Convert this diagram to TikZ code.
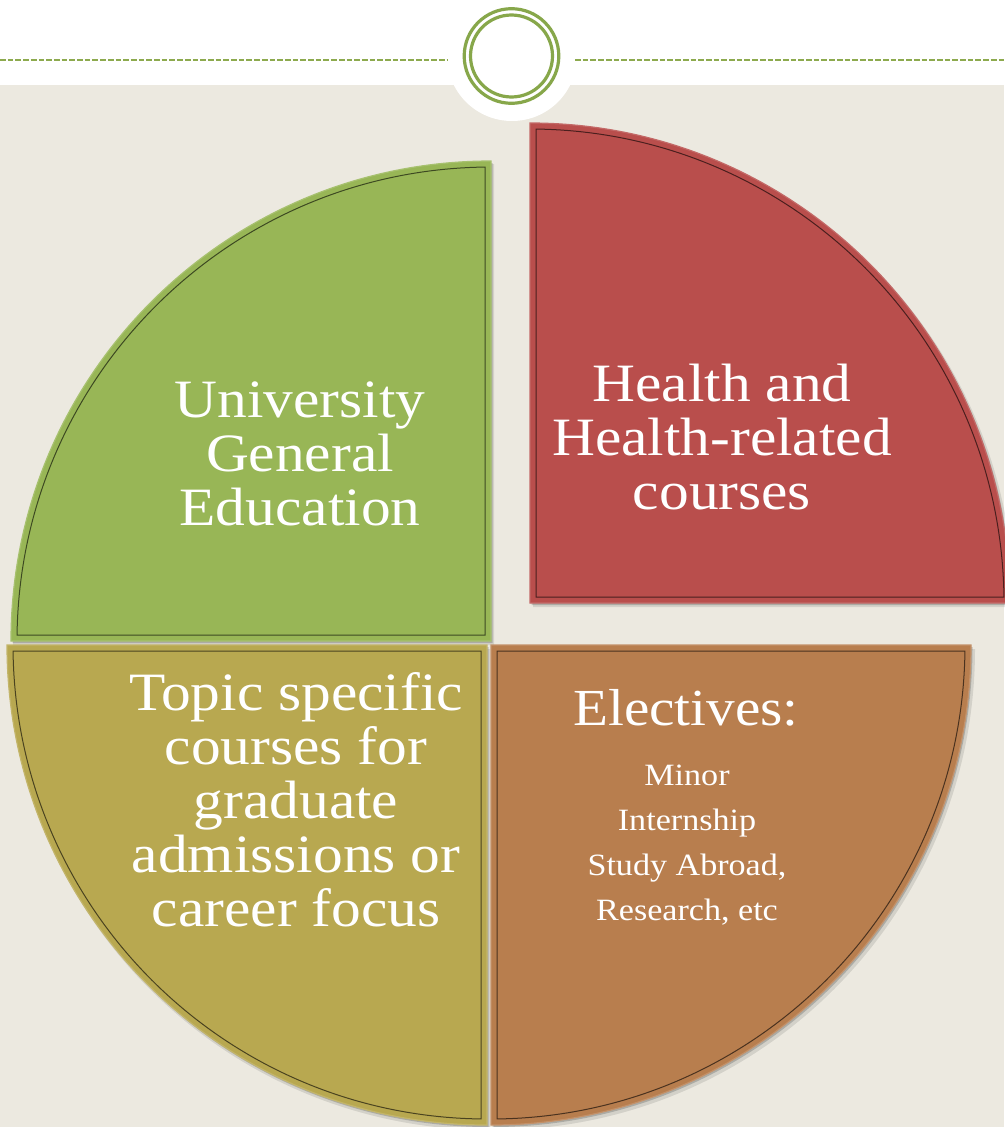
\documentclass[tikz,border=0pt]{standalone}
\usepackage{fontspec}
\newfontfamily\gfont[FakeStretch=1.1]{Liberation Serif}
\definecolor{bgbeige}{HTML}{ECE9E0}
\definecolor{qgreen}{HTML}{98B656}
\definecolor{qred}{HTML}{B94E4C}
\definecolor{qolive}{HTML}{B8A850}
\definecolor{qorange}{HTML}{B87E4E}
\definecolor{ringgreen}{HTML}{87A74A}
\definecolor{dashgreen}{HTML}{8DAA4E}
\newcommand\quadshadow[3]{%
  \fill[black,opacity=0.10] ([shift={(3,4)}]#1,#2) -- ++(#3:481) arc[start angle=#3, end angle=#3+90, radius=481] -- cycle;
  \fill[black,opacity=0.18] ([shift={(1.5,2)}]#1,#2) -- ++(#3:480) arc[start angle=#3, end angle=#3+90, radius=480] -- cycle;
}
\newcommand\quadwedge[4]{%
  \filldraw[fill=#4, draw=#4!85!white, line width=1.2] (#1,#2) -- ++(#3:480) arc[start angle=#3, end angle=#3+90, radius=480] -- cycle;
  \draw[#4!40!black, line width=1] ([shift={(#3+45:8.485)}]#1,#2) -- ([shift={(#3+0.725:474)}]#1,#2) arc[start angle=#3+0.725, end angle=#3+89.275, radius=474] -- cycle;
}
\begin{document}
\begin{tikzpicture}[x=1pt,y=-1pt,
  bigtext/.style={text=white, align=center, inner sep=0, anchor=base, font=\gfont\fontsize{54}{54}\selectfont},
  smalltext/.style={text=white, align=center, inner sep=0, anchor=base, font=\gfont\fontsize{31}{45}\selectfont},
  dashline/.style={dashgreen, line width=2.3, dash pattern=on 5.7 off 2},
  ring/.style={ringgreen, line width=3.2}]
\useasboundingbox (0,0) rectangle (1004,1127);
% background
\fill[white] (0,0) rectangle (1004,85);
\fill[bgbeige] (0,85) rectangle (1004,1127);
% top ornament
\coordinate (lstart) at (0,60);
\coordinate (rend) at (1004,60);
\fill[white] (512,56) circle[radius=65];
\node[circle, minimum size=94.6, inner sep=0, draw=ringgreen, line width=3.2] (ornament) at (511.5,56) {};
\node[circle, minimum size=82, inner sep=0, draw=ringgreen, line width=3.2] (ornamentin) at (511.5,56) {};
\coordinate (lend) at (447,60);
\coordinate (rstart) at (575,60);
\draw[dashline] (lstart) -- (lend);
\draw[dashline] (rstart) -- (rend);
% pie
\quadshadow{491}{641}{180}
\quadshadow{530}{603}{270}
\quadshadow{491}{645}{0}
\quadshadow{487}{645}{90}
\quadwedge{491}{641}{180}{qgreen}
\quadwedge{530}{603}{270}{qred}
\quadwedge{491}{645}{0}{qorange}
\quadwedge{487}{645}{90}{qolive}
% texts (anchor base = baseline of last line)
\node[bigtext] (gen) at (300,525) {University\\General\\Education};
\node[bigtext] (health) at (722,509) {Health and\\Health-related\\courses};
\node[bigtext] (topic) at (296,926) {Topic specific\\courses for\\graduate\\admissions or\\career focus};
\node[bigtext, font=\gfont\fontsize{52}{54}\selectfont] (elect) at (686,725) {Electives:};
\node[smalltext] (electlist) at (687,920) {Minor\\Internship\\Study Abroad,\\Research, etc};
\end{tikzpicture}
\end{document}
